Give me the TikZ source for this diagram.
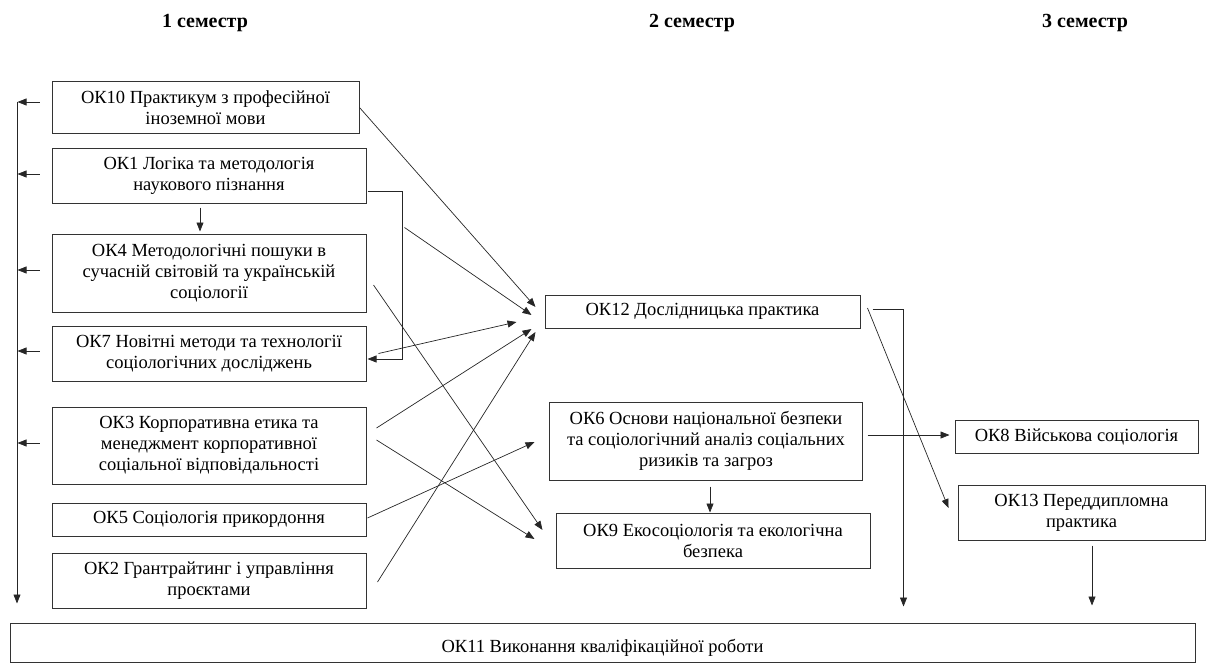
\documentclass[tikz,border=0pt]{standalone}
\usepackage{fontspec}
\setmainfont{Liberation Serif}
\usetikzlibrary{arrows.meta}

\begin{document}
\begin{tikzpicture}[x=1pt,y=-1pt,
    box/.style={draw=black!80, line width=1pt, align=center, inner sep=0pt, font=\fontsize{18.5}{21}\selectfont},
    sem/.style={font=\fontsize{20}{22}\selectfont\bfseries},
    link/.style={draw=black!85, line width=0.7pt, -{Triangle[length=9pt,width=7pt]}},
    wire/.style={draw=black!85, line width=0.7pt}]
    \useasboundingbox (0,0) rectangle (1206,666);

    % Semester headings
    \node[sem] (sem1) at (205,23) {1 семестр};
    \node[sem] (sem2) at (692,23) {2 семестр};
    \node[sem] (sem3) at (1085,23) {3 семестр};

    % First semester column
    \node[box, minimum width=307pt, minimum height=51pt] (ok10) at (205.5,107.5) {ОК10 Практикум з професійної\\іноземної мови};
    \node[box, minimum width=314pt, minimum height=55pt] (ok1) at (209,175.5) {ОК1 Логіка та методологія\\наукового пізнання};
    \node[box, minimum width=314pt, minimum height=78pt] (ok4) at (209,273) {ОК4 Методологічні пошуки в\\сучасній світовій та українській\\соціології};
    \node[box, minimum width=314pt, minimum height=55pt] (ok7) at (209,353.5) {ОК7 Новітні методи та технології\\соціологічних досліджень};
    \node[box, minimum width=314pt, minimum height=77pt] (ok3) at (209,445.5) {ОК3 Корпоративна етика та\\менеджмент корпоративної\\соціальної відповідальності};
    \node[box, minimum width=314pt, minimum height=33pt] (ok5) at (209,519.5) {ОК5 Соціологія прикордоння};
    \node[box, minimum width=314pt, minimum height=55pt] (ok2) at (209,580.5) {ОК2 Грантрайтинг  і управління\\проєктами};

    % Second semester column
    \node[box, minimum width=315pt, minimum height=33pt] (ok12) at (702.5,311.5) {ОК12 Дослідницька практика};
    \node[box, minimum width=313pt, minimum height=78pt] (ok6) at (706,441) {ОК6 Основи національної безпеки\\та соціологічний аналіз соціальних\\ризиків та загроз};
    \node[box, minimum width=314pt, minimum height=55pt] (ok9) at (713,540.5) {ОК9 Екосоціологія та екологічна\\безпека};

    % Third semester column
    \node[box, minimum width=243pt, minimum height=33pt] (ok8) at (1076.5,436.5) {ОК8 Військова соціологія};
    \node[box, minimum width=247pt, minimum height=55pt] (ok13) at (1081.5,512.5) {ОК13 Переддипломна\\практика};

    % Final work
    \node[box, minimum width=1185pt, minimum height=39pt] (ok11) at (602.5,642.5) {\rule{0pt}{24pt}ОК11 Виконання кваліфікаційної роботи};

    % Left bus down to the final work
    \coordinate (bt) at (17,102);
    \draw[link] (bt) -- ([yshift=19pt]bt |- ok11.north);
    \foreach \n/\d in {ok10/5.5, ok1/1.5, ok4/3, ok7/2.5, ok3/2.5}
        \draw[link] ([xshift=-12pt,yshift=\d pt]\n.west) -- ++(-22,0);

    % Links inside the first semester
    \draw[link] ([xshift=-9pt,yshift=-4pt]ok1.south) -- ([xshift=-9pt,yshift=2pt]ok4.north);
    \draw[link] ([xshift=1pt,yshift=-15.5pt]ok1.east) -- ++(35,0) |- ([xshift=1pt,yshift=-5.5pt]ok7.east);

    % Into OK12
    \draw[link] (ok10.east) -- ([xshift=-9pt,yshift=4.5pt]ok12.west);
    \draw[link] ([xshift=38pt,yshift=6pt]ok4.north east) -- ([xshift=-13pt,yshift=-3.5pt]ok12.west);
    \draw[link] ([xshift=12pt]ok7.east) -- ([xshift=-28pt,yshift=-10.5pt]ok12.west);
    \draw[link] ([xshift=10pt,yshift=17.5pt]ok3.east) -- ([xshift=-13pt,yshift=-17.5pt]ok12.west);
    \draw[link] ([xshift=11pt,yshift=-1.5pt]ok2.east) -- ([xshift=-9pt,yshift=-20.5pt]ok12.west);

    % Into OK9 and OK6
    \draw[link] ([xshift=7pt,yshift=-12pt]ok4.east) -- ([xshift=-13pt,yshift=10.5pt]ok9.west);
    \draw[link] ([xshift=10pt,yshift=5.5pt]ok3.east) -- ([xshift=-21pt,yshift=1.5pt]ok9.west);
    \draw[link] ([xshift=1pt,yshift=1.5pt]ok5.east) -- ([xshift=-14.5pt,yshift=-1pt]ok6.west);
    \draw[link] ([xshift=4pt,yshift=-6pt]ok6.south) -- ++(0,26);

    % Third semester links
    \draw[link] ([xshift=4.5pt,yshift=6pt]ok6.east) coordinate (a) -- ([xshift=-5pt]a -| ok8.west);
    \draw[link] ([xshift=7pt,yshift=3.5pt]ok12.east) -- ([xshift=-9pt,yshift=4.5pt]ok13.west);
    \draw[link] ([xshift=12pt,yshift=2.5pt]ok12.east) -- ++(31,0) coordinate (c) -- ([yshift=16pt]c |- ok11.north);
    \draw[link] ([xshift=10.5pt,yshift=-5pt]ok13.south) -- ++(0,60);

\end{tikzpicture}
\end{document}
